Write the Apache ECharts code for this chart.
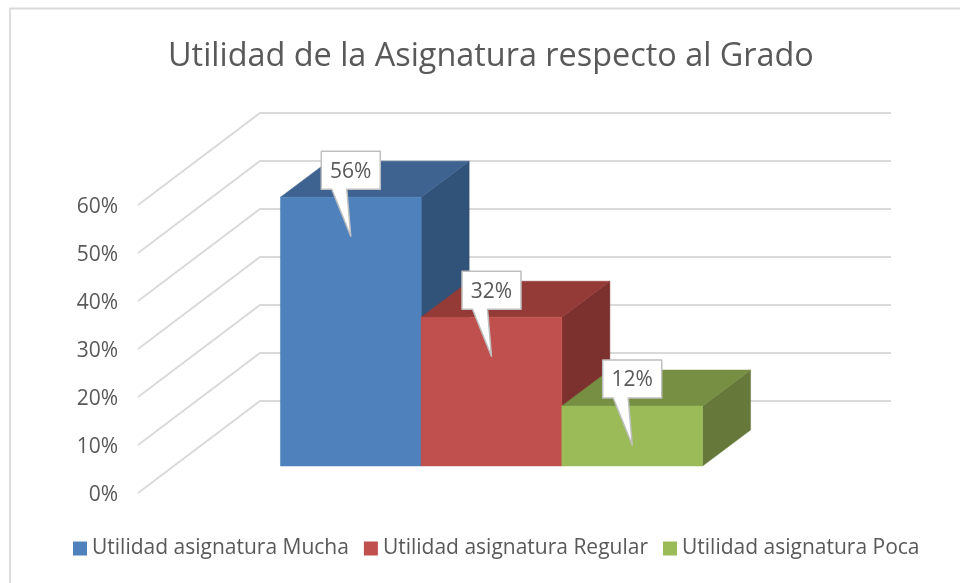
<!DOCTYPE html>
<html><head><meta charset="utf-8">
<style>html,body{margin:0;padding:0;background:#fff}#c{width:960px;height:583px}</style>
<script src="https://cdn.jsdelivr.net/npm/echarts@6/dist/echarts.min.js"></script>
</head><body><div id="c"></div>
<script>
const titleText = 'Utilidad de la Asignatura respecto al Grado';
const categoryLabels = ['Utilidad'];
const seriesNames = ['Utilidad asignatura Mucha', 'Utilidad asignatura Regular', 'Utilidad asignatura Poca'];
// Bar heights as measured against the axis in the picture; callouts carry the printed labels.
const barValues = [56, 31, 12.5];
const calloutLabels = ['56%', '32%', '12%'];
const axisTicks = [0, 10, 20, 30, 40, 50, 60];
const frontColors = ['#4f81bd', '#c0504d', '#9bbb59'];
const topColors = ['#3e6390', '#943a37', '#778f42'];
const sideColors = ['#325379', '#7d312f', '#66793a'];

const FONT = '"Open Sans", sans-serif';
const TEXT = '#595959';
const GRID = '#d9d9d9';
const WALL = [122, -92];   // axis plane to back wall
const PLANE = [38, -27];   // axis plane to bar front plane
const DEPTH = [48, -36];   // bar depth
const BAND = 0.223;        // bar width as share of the category band

function poly(points, fill, z2, stroke) {
  return {
    type: 'polygon', z2: z2, shape: { points: points },
    style: { fill: fill, stroke: stroke || fill, lineWidth: stroke ? 1.5 : 0.5, lineJoin: 'round' }
  };
}

function barRender(idx) {
  return function (params, api) {
    const w = api.size([1, 0])[0] * BAND;
    const base = api.coord([api.value(0), 0]);
    const top = api.coord([api.value(0), api.value(1)]);
    const x0 = base[0] + PLANE[0] + (idx - 1.5) * w;
    const x1 = x0 + w;
    const yb = base[1] + PLANE[1];
    const yt = top[1] + PLANE[1];
    const dx = DEPTH[0], dy = DEPTH[1];
    const cx = x0 + w / 2;
    const tipY = yt + 39;
    const boxT = yt - 46, boxB = yt - 8, boxL = cx - 29.5, boxR = cx + 29.5;
    return {
      type: 'group',
      children: [
        poly([[x1, yt], [x1 + dx, yt + dy], [x1 + dx, yb + dy], [x1, yb]], sideColors[idx], 1),
        poly([[x0, yt], [x0 + dx, yt + dy], [x1 + dx, yt + dy], [x1, yt]], topColors[idx], 1),
        poly([[x0, yt], [x1, yt], [x1, yb], [x0, yb]], frontColors[idx], 2),
        poly([[boxL, boxT], [boxR, boxT], [boxR, boxB], [cx - 4, boxB], [cx, tipY], [cx - 19, boxB], [boxL, boxB]],
          '#ffffff', 3, '#bfbfbf'),
        {
          type: 'text', z2: 4,
          style: {
            x: cx, y: (boxT + boxB) / 2 + 1.5, text: calloutLabels[idx],
            align: 'center', verticalAlign: 'middle',
            font: '21px ' + FONT, fill: TEXT
          }
        }
      ]
    };
  };
}

function gridRender(params, api) {
  const p = api.coord([0, api.value(0)]);
  const size = api.size([1, 0])[0];
  const left = p[0] - size / 2;
  return {
    type: 'polyline',
    shape: { points: [[left, p[1]], [left + WALL[0], p[1] + WALL[1]], [left + WALL[0] + size, p[1] + WALL[1]]] },
    style: { stroke: GRID, lineWidth: 1.8, fill: null }
  };
}

const series = [{
  type: 'custom', name: 'grid', z: 1, clip: false, silent: true,
  coordinateSystem: 'cartesian2d', data: axisTicks.map(v => [v]),
  encode: { y: 0 }, renderItem: gridRender
}];
seriesNames.forEach(function (name, i) {
  series.push({
    type: 'custom', name: name, z: 2 + i, clip: false, silent: true,
    coordinateSystem: 'cartesian2d',
    itemStyle: { color: frontColors[i] },
    data: [[0, barValues[i]]], encode: { x: 0, y: 1 },
    renderItem: barRender(i)
  });
});

const chart = echarts.init(document.getElementById('c'), null, { renderer: 'canvas' });
chart.setOption({
  animation: false,
  backgroundColor: '#ffffff',
  title: {
    text: titleText, left: 163, top: 36,
    textStyle: { fontFamily: FONT, fontSize: 32.4, fontWeight: 'normal', color: TEXT }
  },
  legend: {
    data: seriesNames, left: 68, top: 533, itemWidth: 14, itemHeight: 14, itemGap: 15,
    icon: 'rect', selectedMode: false,
    textStyle: { fontFamily: FONT, fontSize: 21, color: TEXT }
  },
  grid: { left: 138, width: 631, top: 205, height: 288, containLabel: false },
  xAxis: { type: 'category', data: categoryLabels, show: false },
  yAxis: {
    type: 'value', min: 0, max: 60, interval: 10,
    axisLine: { show: false }, axisTick: { show: false }, splitLine: { show: false },
    axisLabel: {
      formatter: '{t|{value}%}', margin: 20,
      rich: { t: { fontFamily: FONT, fontSize: 21, color: TEXT, padding: [4, 0, 0, 0] } }
    }
  },
  graphic: [{
    type: 'polyline', silent: true,
    shape: { points: [[10, 583], [10, 8.5], [960, 8.5]] },
    style: { stroke: GRID, lineWidth: 1.8, fill: null }
  }],
  series: series
});
</script></body></html>
